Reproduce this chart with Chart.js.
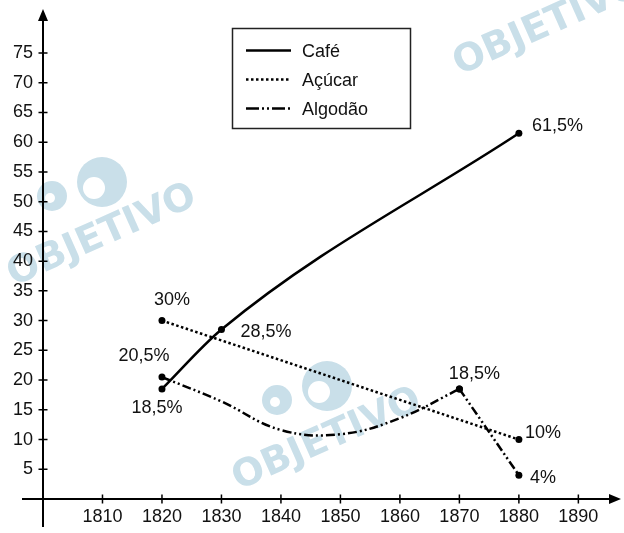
<!DOCTYPE html>
<html>
<head>
<meta charset="utf-8">
<title>Exportações brasileiras</title>
<script src="https://cdn.jsdelivr.net/npm/chart.js@4"></script>
<style>
  body { margin: 0; background: #fff; }
  canvas { display: block; }
</style>
</head>
<body>
<canvas id="exportacoes" width="624" height="533"></canvas>
<script>
// percentuais de cada produto nas exportações
const cafeYears = [1820, 1830, 1880];
const cafeValues = [18.5, 28.5, 61.5];

const acucarYears = [1820, 1880];
const acucarValues = [30, 10];

// pontos marcados do algodão
const algodaoYears = [1820, 1870, 1880];
const algodaoValues = [20.5, 18.5, 4];
// trecho curvo do algodão entre 1820 e 1870
const algodaoCurveYears = [1830, 1840, 1850, 1860];
const algodaoCurveValues = [16.4, 11.6, 10.9, 13.6];

const seriesNames = ['Café', 'Açúcar', 'Algodão'];
const xTicks = [1810, 1820, 1830, 1840, 1850, 1860, 1870, 1880, 1890];
const yTicks = [5, 10, 15, 20, 25, 30, 35, 40, 45, 50, 55, 60, 65, 70, 75];

const FONT = "'Liberation Sans', Arial, sans-serif";
const dashes = {
  'Café': [],
  'Açúcar': [2.5, 2.5],
  'Algodão': [9, 3, 2, 3, 2, 3]
};
// amostras da legenda
const legendDashes = {
  'Café': [],
  'Açúcar': [2.5, 2.5],
  'Algodão': [13, 3, 2, 3, 2, 3]
};

// deslocamento dos rótulos em relação ao ponto: [dx, dy, alinhamento]
const labelOffsets = {
  'Café': [[-5, 19, 'center'], [19, 3, 'left'], [13, -7, 'left']],
  'Açúcar': [[10, -21, 'center'], [6, -7, 'left']],
  'Algodão': [[-18, -21, 'center'], [15, -15, 'center'], [11, 3, 'left']]
};

const toPoints = (xs, ys) => xs.map((x, i) => ({ x: x, y: ys[i] }));
const pct = v => String(v).replace('.', ',') + '%';

const curveYears = [algodaoYears[0], ...algodaoCurveYears, algodaoYears[1]];
const curveValues = [algodaoValues[0], ...algodaoCurveValues, algodaoValues[1]];

const lineBase = {
  borderColor: '#000',
  borderWidth: 2.5,
  borderCapStyle: 'butt',
  pointBackgroundColor: '#000',
  pointBorderWidth: 0,
  pointRadius: 3.5,
  fill: false
};

Chart.defaults.font.family = FONT;
Chart.defaults.font.size = 18;
Chart.defaults.color = '#111';

// marca d'água ao fundo
const marcaDagua = {
  id: 'marcaDagua',
  beforeDraw(chart) {
    const ctx = chart.ctx;
    const spots = [[102, 236], [327, 440], [548, 25]];
    ctx.save();
    ctx.fillStyle = '#c9dfe9';
    spots.forEach(([cx, cy]) => {
      // logotipo
      ctx.beginPath();
      ctx.arc(cx, cy - 54, 25, 0, Math.PI * 2);
      ctx.fill();
      ctx.beginPath();
      ctx.arc(cx - 50, cy - 40, 15, 0, Math.PI * 2);
      ctx.fill();
      ctx.save();
      ctx.fillStyle = '#fff';
      ctx.beginPath();
      ctx.arc(cx - 8, cy - 48, 11, 0, Math.PI * 2);
      ctx.fill();
      ctx.beginPath();
      ctx.arc(cx - 52, cy - 38, 5, 0, Math.PI * 2);
      ctx.fill();
      ctx.restore();
      // texto
      ctx.save();
      ctx.translate(cx, cy);
      ctx.rotate(-24 * Math.PI / 180);
      ctx.font = "bold 38px 'DejaVu Sans', sans-serif";
      ctx.textAlign = 'center';
      ctx.textBaseline = 'middle';
      ctx.fillText('OBJETIVO', 0, 0);
      ctx.restore();
    });
    ctx.restore();
  }
};

// eixos com setas e marcas
const eixos = {
  id: 'eixos',
  beforeDatasetsDraw(chart) {
    const { ctx, scales: { x, y } } = chart;
    const x0 = x.getPixelForValue(1800);
    const y0 = y.getPixelForValue(0);
    ctx.save();
    ctx.strokeStyle = '#000';
    ctx.fillStyle = '#000';
    ctx.lineWidth = 2;
    ctx.beginPath();
    ctx.moveTo(22, y0);
    ctx.lineTo(x.right - 8, y0);
    ctx.moveTo(x0, 527);
    ctx.lineTo(x0, y.top + 8);
    ctx.stroke();

    ctx.beginPath();
    ctx.moveTo(x.right + 1, y0);
    ctx.lineTo(x.right - 11, y0 - 5);
    ctx.lineTo(x.right - 11, y0 + 5);
    ctx.closePath();
    ctx.moveTo(x0, y.top);
    ctx.lineTo(x0 - 5, y.top + 12);
    ctx.lineTo(x0 + 5, y.top + 12);
    ctx.closePath();
    ctx.fill();

    ctx.lineWidth = 1.5;
    ctx.beginPath();
    xTicks.forEach(v => {
      const px = x.getPixelForValue(v);
      ctx.moveTo(px, y0 - 4.5);
      ctx.lineTo(px, y0 + 4.5);
    });
    yTicks.forEach(v => {
      const py = y.getPixelForValue(v);
      ctx.moveTo(x0 - 4.5, py);
      ctx.lineTo(x0 + 4.5, py);
    });
    ctx.stroke();
    ctx.restore();
  }
};

// rótulos de percentual junto aos pontos
const rotulos = {
  id: 'rotulos',
  afterDatasetsDraw(chart) {
    const { ctx, scales: { x, y } } = chart;
    const marcados = {
      'Café': toPoints(cafeYears, cafeValues),
      'Açúcar': toPoints(acucarYears, acucarValues),
      'Algodão': toPoints(algodaoYears, algodaoValues)
    };
    ctx.save();
    ctx.font = '18px ' + FONT;
    ctx.fillStyle = '#111';
    ctx.textBaseline = 'middle';
    seriesNames.forEach(name => {
      marcados[name].forEach((p, i) => {
        const [dx, dy, align] = labelOffsets[name][i];
        ctx.textAlign = align;
        ctx.fillText(pct(p.y), x.getPixelForValue(p.x) + dx, y.getPixelForValue(p.y) + dy);
      });
    });
    ctx.restore();
  }
};

// legenda em caixa
const legenda = {
  id: 'legenda',
  afterDraw(chart) {
    const ctx = chart.ctx;
    ctx.save();
    ctx.fillStyle = '#fff';
    ctx.fillRect(232, 28, 179, 101);
    ctx.strokeStyle = '#222';
    ctx.lineWidth = 1.5;
    ctx.strokeRect(232.5, 28.5, 178, 100);
    ctx.font = '18px ' + FONT;
    ctx.textBaseline = 'alphabetic';
    seriesNames.forEach((name, i) => {
      const ly = 50.5 + i * 29;
      ctx.strokeStyle = '#000';
      ctx.lineWidth = 2.5;
      ctx.lineCap = 'butt';
      ctx.setLineDash(legendDashes[name]);
      ctx.beginPath();
      ctx.moveTo(246, ly);
      ctx.lineTo(291, ly);
      ctx.stroke();
      ctx.setLineDash([]);
      ctx.fillStyle = '#111';
      ctx.fillText(name, 302, ly + 6.5);
    });
    ctx.restore();
  }
};

new Chart(document.getElementById('exportacoes').getContext('2d'), {
  type: 'line',
  data: {
    datasets: [
      Object.assign({}, lineBase, {
        label: seriesNames[0],
        data: toPoints(cafeYears, cafeValues),
        cubicInterpolationMode: 'monotone',
        borderDash: dashes['Café']
      }),
      Object.assign({}, lineBase, {
        label: seriesNames[1],
        data: toPoints(acucarYears, acucarValues),
        tension: 0,
        borderDash: dashes['Açúcar']
      }),
      Object.assign({}, lineBase, {
        label: seriesNames[2],
        data: toPoints(curveYears, curveValues),
        tension: 0.4,
        borderDash: dashes['Algodão'],
        pointRadius: ctx => algodaoYears.includes(ctx.raw.x) ? 3.5 : 0
      }),
      Object.assign({}, lineBase, {
        label: seriesNames[2] + ' (queda)',
        data: toPoints(algodaoYears.slice(1), algodaoValues.slice(1)),
        tension: 0,
        borderDash: dashes['Algodão']
      })
    ]
  },
  options: {
    responsive: false,
    animation: false,
    layout: { padding: { top: 9, right: 2, left: 0, bottom: 0 } },
    plugins: {
      legend: { display: false },
      tooltip: { enabled: false }
    },
    scales: {
      x: {
        type: 'linear',
        min: 1800,
        max: 1897,
        grid: { display: false, drawTicks: false, tickLength: 0 },
        border: { display: false },
        afterBuildTicks: s => { s.ticks = xTicks.map(v => ({ value: v })); },
        afterFit: s => { s.height = 34; s.paddingLeft = 0; s.paddingRight = 0; },
        ticks: { padding: 7, callback: v => String(v), maxRotation: 0, autoSkip: false }
      },
      y: {
        type: 'linear',
        min: 0,
        max: 82.4,
        grid: { display: false, drawTicks: false, tickLength: 0 },
        border: { display: false },
        afterBuildTicks: s => { s.ticks = yTicks.map(v => ({ value: v })); },
        afterFit: s => { s.width = 43; s.paddingTop = 0; s.paddingBottom = 0; },
        ticks: { padding: 10, callback: v => String(v), autoSkip: false }
      }
    }
  },
  plugins: [marcaDagua, eixos, rotulos, legenda]
});
</script>
</body>
</html>
